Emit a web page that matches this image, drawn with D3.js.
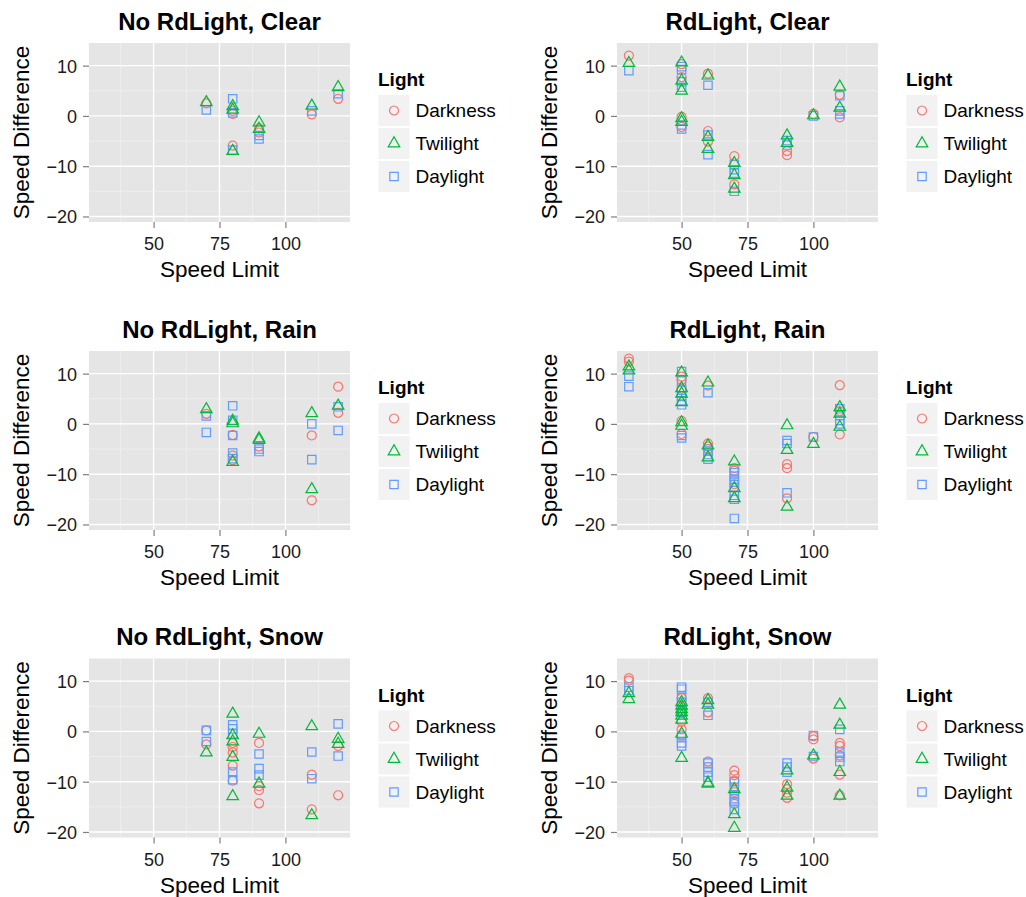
<!DOCTYPE html>
<html>
<head>
<meta charset="utf-8">
<script src="https://cdn.jsdelivr.net/npm/d3@7"></script>
<style>
  html, body { margin: 0; padding: 0; background: #fff; }
  svg { display: block; font-family: "Liberation Sans", Arial, Helvetica, sans-serif; }
</style>
</head>
<body>
<svg id="chart" width="1026" height="897"></svg>
<script>
// ---- Data ----
const lightLevels = ["Darkness", "Twilight", "Daylight"];
const panelTitles = ["No RdLight, Clear", "RdLight, Clear", "No RdLight, Rain", "RdLight, Rain", "No RdLight, Snow", "RdLight, Snow"];
const xTicks = [50, 75, 100];
const xMinor = [37.5, 62.5, 87.5, 112.5];
const yTicks = [-20, -10, 0, 10];
const yMinor = [-15, -5, 5];
const xDomain = [25.5, 124.5];
const yDomain = [-21.1, 14.5];

// rows: [speed limit, light index (0 Darkness,1 Twilight,2 Daylight), speed difference]
const noRdClear = [
  [70,0,2.5],[80,0,1.0],[80,0,0.4],[80,0,-5.9],[90,0,-2.5],[90,0,-3.3],[110,0,0.3],[120,0,3.4],
  [70,2,1.2],[80,2,3.4],[80,2,0.6],[80,2,-6.8],[90,2,-3.9],[90,2,-4.6],[110,2,1.0],[120,2,4.4],
  [70,1,2.7],[80,1,1.9],[80,1,1.2],[80,1,-7.0],[90,1,-1.3],[90,1,-2.6],[110,1,2.0],[120,1,5.7]
];
const rdClear = [
  [30,0,12.0],[50,0,10.3],[50,0,7.7],[50,0,-0.2],[50,0,-2.2],[60,0,8.4],[60,0,-3.0],[60,0,-5.1],[70,0,-8.0],[70,0,-13.6],[90,0,-7.0],[90,0,-7.8],[100,0,0.4],[110,0,4.2],[110,0,-0.3],
  [30,2,9.0],[50,2,9.8],[50,2,9.2],[50,2,6.8],[50,2,5.7],[50,2,-1.8],[50,2,-2.6],[60,2,6.1],[60,2,-3.8],[60,2,-7.7],[70,2,-9.6],[70,2,-10.7],[70,2,-11.4],[70,2,-15.0],[90,2,-4.9],[90,2,-5.8],[100,2,0.0],[110,2,4.0],[110,2,1.0],[110,2,0.4],
  [30,1,10.5],[50,1,10.6],[50,1,7.0],[50,1,5.0],[50,1,-0.5],[50,1,-1.2],[60,1,8.0],[60,1,-4.2],[60,1,-6.6],[70,1,-9.4],[70,1,-11.8],[70,1,-14.5],[90,1,-3.9],[90,1,-5.4],[100,1,0.1],[110,1,5.8],[110,1,1.6]
];
const noRdRain = [
  [70,0,2.0],[80,0,-2.2],[80,0,-6.3],[80,0,-7.2],[90,0,-4.5],[110,0,-2.3],[110,0,-15.2],[120,0,7.4],[120,0,2.2],
  [70,2,1.6],[70,2,-1.7],[80,2,3.6],[80,2,0.7],[80,2,-2.3],[80,2,-5.8],[80,2,-6.9],[90,2,-5.0],[90,2,-5.5],[110,2,0.0],[110,2,-7.1],[120,2,3.4],[120,2,-1.3],
  [70,1,2.9],[80,1,0.6],[80,1,0.1],[80,1,-7.6],[90,1,-2.9],[90,1,-3.2],[110,1,2.1],[110,1,-13.0],[120,1,3.6]
];
const rdRain = [
  [30,0,13.0],[30,0,12.4],[50,0,9.4],[50,0,8.8],[50,0,7.0],[50,0,0.6],[50,0,-2.0],[60,0,7.6],[60,0,-3.9],[60,0,-4.5],[60,0,-5.0],[70,0,-8.8],[70,0,-9.3],[70,0,-12.0],[70,0,-12.6],[90,0,-8.0],[90,0,-8.8],[90,0,-14.8],[100,0,-2.6],[110,0,7.7],[110,0,2.5],[110,0,-2.1],
  [30,2,9.5],[30,2,7.4],[50,2,10.4],[50,2,8.5],[50,2,6.7],[50,2,5.6],[50,2,4.6],[50,2,3.8],[50,2,-2.3],[50,2,-2.8],[60,2,6.2],[60,2,-5.4],[60,2,-6.1],[60,2,-7.0],[70,2,-9.7],[70,2,-10.4],[70,2,-11.0],[70,2,-11.6],[70,2,-14.2],[70,2,-15.0],[70,2,-18.8],[90,2,-3.3],[90,2,-3.9],[90,2,-13.7],[100,2,-2.6],[110,2,3.0],[110,2,1.7],[110,2,0.7],[110,2,0.0],
  [30,1,11.4],[30,1,10.6],[50,1,10.2],[50,1,7.1],[50,1,6.0],[50,1,4.3],[50,1,0.3],[50,1,-0.4],[60,1,8.2],[60,1,-4.3],[60,1,-6.7],[70,1,-7.5],[70,1,-12.8],[70,1,-14.8],[90,1,-0.3],[90,1,-5.2],[90,1,-16.5],[100,1,-4.0],[110,1,3.3],[110,1,2.0],[110,1,-0.6]
];
const noRdSnow = [
  [70,0,0.2],[70,0,-2.6],[80,0,-2.3],[80,0,-3.1],[80,0,-4.2],[80,0,-6.8],[80,0,-9.8],[90,0,-2.3],[90,0,-10.9],[90,0,-11.7],[90,0,-14.3],[110,0,-8.6],[110,0,-15.5],[120,0,-2.9],[120,0,-12.7],
  [70,2,0.2],[70,2,-2.0],[80,2,1.3],[80,2,0.5],[80,2,-0.5],[80,2,-8.1],[80,2,-9.6],[90,2,-4.5],[90,2,-7.4],[90,2,-8.7],[110,2,-4.1],[110,2,-9.4],[120,2,1.5],[120,2,-4.9],
  [70,1,-4.2],[80,1,3.5],[80,1,-0.8],[80,1,-2.0],[80,1,-5.1],[80,1,-12.9],[90,1,-0.5],[90,1,-10.4],[110,1,1.0],[110,1,-16.7],[120,1,-1.5],[120,1,-2.5]
];
const rdSnow = [
  [30,0,10.6],[30,0,10.1],[50,0,6.6],[50,0,1.9],[50,0,0.4],[50,0,-0.8],[60,0,6.6],[60,0,3.8],[60,0,-6.0],[70,0,-7.8],[70,0,-8.7],[70,0,-9.8],[70,0,-12.1],[70,0,-14.4],[90,0,-10.5],[90,0,-11.5],[90,0,-12.2],[90,0,-13.2],[100,0,-1.0],[100,0,-1.6],[100,0,-5.4],[110,0,-2.3],[110,0,-2.9],[110,0,-4.8],[110,0,-8.6],[110,0,-12.7],
  [30,2,8.8],[30,2,8.1],[50,2,8.8],[50,2,8.4],[50,2,6.8],[50,2,5.8],[50,2,3.8],[50,2,-1.1],[50,2,-2.3],[50,2,-2.9],[60,2,5.8],[60,2,3.2],[60,2,-6.3],[60,2,-7.1],[60,2,-8.1],[60,2,-9.1],[70,2,-10.0],[70,2,-11.1],[70,2,-12.6],[70,2,-13.4],[70,2,-14.0],[70,2,-15.5],[90,2,-6.3],[90,2,-7.1],[90,2,-8.1],[100,2,-0.8],[100,2,-5.0],[110,2,0.4],[110,2,-4.1],[110,2,-5.1],[110,2,-6.0],
  [30,1,7.6],[30,1,6.4],[50,1,5.8],[50,1,5.1],[50,1,4.4],[50,1,3.8],[50,1,3.1],[50,1,2.3],[50,1,-0.5],[50,1,-5.3],[60,1,6.2],[60,1,5.3],[60,1,-10.2],[60,1,-10.4],[70,1,-11.5],[70,1,-16.5],[70,1,-19.2],[90,1,-7.8],[90,1,-11.2],[90,1,-12.8],[100,1,-4.8],[110,1,5.3],[110,1,1.3],[110,1,-8.1],[110,1,-12.8]
];
const panelData = [noRdClear, rdClear, noRdRain, rdRain, noRdSnow, rdSnow];

// ---- Styles ----
const lightColors = ["#F8766D", "#00BA38", "#619CFF"];
const lightShapes = [d3.symbolCircle, d3.symbolTriangle, d3.symbolSquare];
const shapeSizes = [64, 58, 70];

const colLeft = [89, 617];
const rowTop = [43, 351, 658.5];
const plotW = 261, plotH = 179;

const svg = d3.select("#chart");
svg.append("rect").attr("width", 1026).attr("height", 897).attr("fill", "#fff");

panelData.forEach((rows, i) => {
  const c = i % 2, r = Math.floor(i / 2);
  const left = colLeft[c], top = rowTop[r];
  const g = svg.append("g").attr("transform", `translate(${left},${top})`);
  const x = d3.scaleLinear().domain(xDomain).range([0, plotW]);
  const y = d3.scaleLinear().domain(yDomain).range([plotH, 0]);

  // background
  g.append("rect").attr("width", plotW).attr("height", plotH).attr("fill", "#E5E5E5");
  // minor grid
  g.selectAll(".xmin").data(xMinor).join("line")
    .attr("x1", d => x(d)).attr("x2", d => x(d)).attr("y1", 0).attr("y2", plotH)
    .attr("stroke", "#F2F2F2").attr("stroke-width", 0.7);
  g.selectAll(".ymin").data(yMinor).join("line")
    .attr("y1", d => y(d)).attr("y2", d => y(d)).attr("x1", 0).attr("x2", plotW)
    .attr("stroke", "#F2F2F2").attr("stroke-width", 0.7);
  // major grid
  g.selectAll(".xmaj").data(xTicks).join("line")
    .attr("x1", d => x(d)).attr("x2", d => x(d)).attr("y1", 0).attr("y2", plotH)
    .attr("stroke", "#fff").attr("stroke-width", 1.4);
  g.selectAll(".ymaj").data(yTicks).join("line")
    .attr("y1", d => y(d)).attr("y2", d => y(d)).attr("x1", 0).attr("x2", plotW)
    .attr("stroke", "#fff").attr("stroke-width", 1.4);

  // axes
  const xa = g.append("g").attr("transform", `translate(0,${plotH})`)
    .call(d3.axisBottom(x).tickValues(xTicks).tickSize(6).tickFormat(d3.format("d")));
  const ya = g.append("g")
    .call(d3.axisLeft(y).tickValues(yTicks).tickSize(6).tickFormat(d => d < 0 ? "\u2212" + Math.abs(d) : d));
  [xa, ya].forEach(a => {
    a.select(".domain").remove();
    a.selectAll(".tick line").attr("stroke", "#7F7F7F").attr("stroke-width", 1.2);
    a.selectAll(".tick text").attr("fill", "#1a1a1a").attr("font-size", 18)
      .attr("font-family", "'Liberation Sans', Arial, sans-serif");
  });
  xa.selectAll(".tick text").attr("y", 28).attr("dy", null);
  ya.selectAll(".tick text").attr("x", -12).attr("dy", "0.36em");

  // points
  g.selectAll(".pt").data(rows).join("path")
    .attr("transform", d => `translate(${x(d[0])},${y(d[2])})`)
    .attr("d", d => d3.symbol().type(lightShapes[d[1]]).size(shapeSizes[d[1]])())
    .attr("fill", "none")
    .attr("stroke", d => lightColors[d[1]])
    .attr("stroke-width", 1.2);

  // titles
  g.append("text").attr("x", plotW / 2).attr("y", -13.5).attr("text-anchor", "middle")
    .attr("font-size", 24).attr("font-weight", "bold").attr("fill", "#000").text(panelTitles[i]);
  g.append("text").attr("x", plotW / 2).attr("y", plotH + 55).attr("text-anchor", "middle")
    .attr("font-size", 22.5).attr("fill", "#000").text("Speed Limit");
  g.append("text").attr("transform", `translate(-60.5,${plotH / 2}) rotate(-90)`)
    .attr("text-anchor", "middle").attr("font-size", 22.5).attr("fill", "#000").text("Speed Difference");

  // legend
  const lg = g.append("g").attr("transform", `translate(${plotW + 28},0)`);
  lg.append("text").attr("x", 0).attr("y", 43).attr("font-size", 19).attr("font-weight", "bold")
    .attr("fill", "#000").text("Light");
  const items = lg.selectAll(".key").data(lightLevels).join("g")
    .attr("transform", (d, k) => `translate(0,${52 + k * 33})`);
  items.append("rect").attr("x", 0.5).attr("y", 0).attr("width", 31).attr("height", 31)
    .attr("fill", "#F2F2F2");
  items.append("path").attr("transform", "translate(16,15.5)")
    .attr("d", (d, k) => d3.symbol().type(lightShapes[k]).size(shapeSizes[k])())
    .attr("fill", "none").attr("stroke", (d, k) => lightColors[k]).attr("stroke-width", 1.2);
  items.append("text").attr("x", 37.5).attr("y", 22).attr("font-size", 19).attr("fill", "#000")
    .text(d => d);
});
</script>
</body>
</html>
